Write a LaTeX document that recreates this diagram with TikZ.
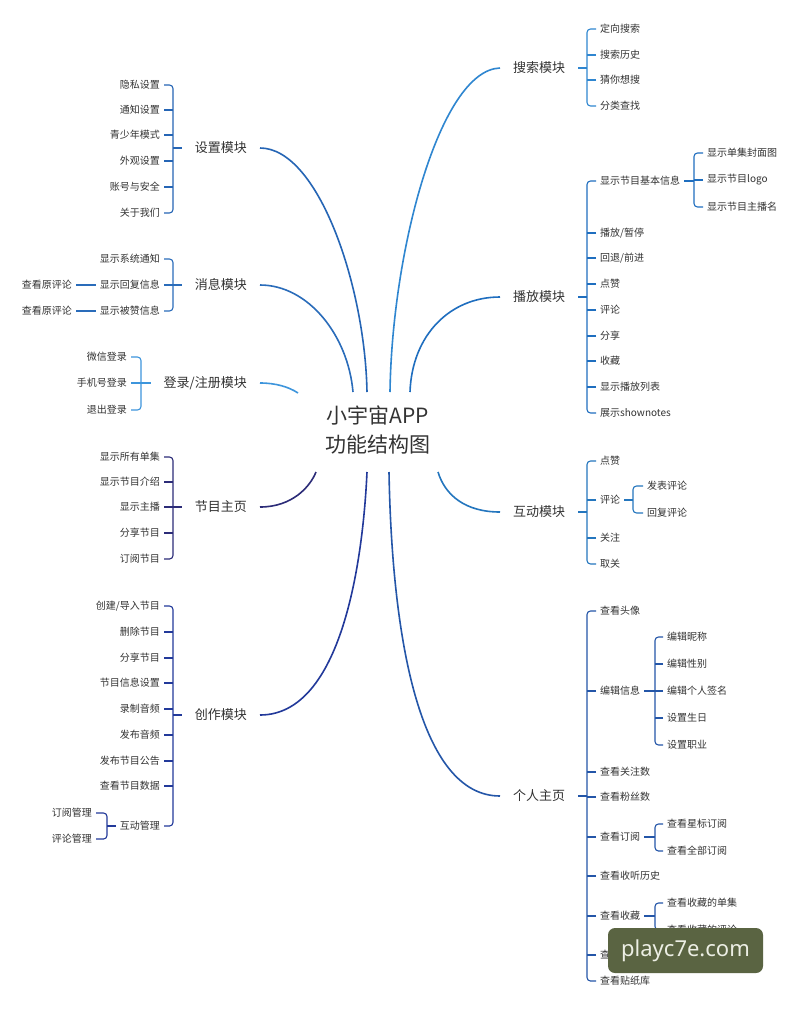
\documentclass[tikz,border=0pt]{standalone}
\usepackage{fontspec}
\setmainfont{Noto Sans CJK SC}
\newfontfamily\wmfont{Noto Sans}
\definecolor{txt}{HTML}{333333}
\definecolor{setc}{HTML}{2565B5}
\definecolor{msgc}{HTML}{2A6CBA}
\definecolor{loginc}{HTML}{3D95DC}
\definecolor{progc}{HTML}{2C2C78}
\definecolor{createc}{HTML}{22399A}
\definecolor{searchc}{HTML}{2F86D0}
\definecolor{playc}{HTML}{1F6EBF}
\definecolor{interc}{HTML}{2476BE}
\definecolor{personc}{HTML}{2456A8}
\definecolor{wmbg}{HTML}{5A6442}
\definecolor{wmtext}{HTML}{ECEEE4}
\tikzset{
  leafR/.style={anchor=west, inner xsep=4pt, inner ysep=2pt, font=\fontsize{10}{12}\selectfont, text=txt},
  leafL/.style={anchor=east, inner xsep=4pt, inner ysep=2pt, font=\fontsize{10}{12}\selectfont, text=txt},
  modR/.style={anchor=west, inner xsep=13pt, inner ysep=2pt, font=\fontsize{13}{15}\selectfont, text=txt},
  modL/.style={anchor=east, inner xsep=13pt, inner ysep=2pt, font=\fontsize{13}{15}\selectfont, text=txt},
  br/.style={line width=1.1pt, rounded corners=3.5pt},
  mainline/.style={line width=1.6pt},
}
\begin{document}
\begin{tikzpicture}[x=1pt,y=-1pt]
\useasboundingbox[fill=white] (0,0) rectangle (800,1010);

% centre
\node[align=center, text=txt, font=\fontsize{21}{29}\selectfont] (title) at (378,430) {小宇宙APP\\功能结构图};
\coordinate (eSet) at (367,392);
\coordinate (eMsg) at (353,392);
\coordinate (eLogin) at (298,393);
\coordinate (eProg) at (316,472);
\coordinate (eCreate) at (367,472);
\coordinate (eSearch) at (390,392);
\coordinate (ePlay) at (410,392);
\coordinate (eInter) at (438,472);
\coordinate (ePerson) at (389,472);

% ================= RIGHT SIDE =================
% Search
\node[modR] (search) at (500,68) {搜索模块};
\coordinate (sS) at (587,68);
\node[leafR] (s1) at (596,29) {定向搜索};
\node[leafR] (s2) at (596,55) {搜索历史};
\node[leafR] (s3) at (596,80) {猜你想搜};
\node[leafR] (s4) at (596,106) {分类查找};
\begin{scope}[searchc]
\draw[mainline] (search.west) .. controls (440,70) and (392,250) .. (eSearch);
\draw[br] (s1.west) -- (s1.west -| sS) -- (s4.west -| sS) -- (s4.west);
\draw[br] (s2.west) -- (s2.west -| sS);
\draw[br] (s3.west) -- (s3.west -| sS);
\draw[br] (search.east) -- (sS);
\end{scope}

% Play
\node[modR] (play) at (500,297) {播放模块};
\coordinate (pS) at (587,297);
\node[leafR] (p1) at (596,181) {显示节目基本信息};
\node[leafR] (p2) at (596,233) {播放/暂停};
\node[leafR] (p3) at (596,258) {回退/前进};
\node[leafR] (p4) at (596,284) {点赞};
\node[leafR] (p5) at (596,310) {评论};
\node[leafR] (p6) at (596,336) {分享};
\node[leafR] (p7) at (596,361) {收藏};
\node[leafR] (p8) at (596,387) {显示播放列表};
\node[leafR] (p9) at (596,413) {展示shownotes};
\coordinate (pT) at (694,181);
\node[leafR] (p1a) at (703,153) {显示单集封面图};
\node[leafR] (p1b) at (703,180) {显示节目logo};
\node[leafR] (p1c) at (703,207) {显示节目主播名};
\begin{scope}[playc]
\draw[mainline] (play.west) .. controls (450,297) and (412,335) .. (ePlay);
\draw[br] (p1.west) -- (p1.west -| pS) -- (p9.west -| pS) -- (p9.west);
\foreach \i in {2,...,8} \draw[br] (p\i.west) -- (p\i.west -| pS);
\draw[br] (play.east) -- (pS);
\draw[br] (p1a.west) -- (p1a.west -| pT) -- (p1c.west -| pT) -- (p1c.west);
\draw[br] (p1b.west) -- (p1b.west -| pT);
\draw[br] (p1.east) -- (pT);
\end{scope}

% Interaction
\node[modR] (inter) at (500,512) {互动模块};
\coordinate (iS) at (587,512);
\node[leafR] (i1) at (596,461) {点赞};
\node[leafR] (i2) at (596,500) {评论};
\node[leafR] (i3) at (596,538) {关注};
\node[leafR] (i4) at (596,564) {取关};
\coordinate (iT) at (633,500);
\node[leafR] (i2a) at (643,486) {发表评论};
\node[leafR] (i2b) at (643,513) {回复评论};
\begin{scope}[interc]
\draw[mainline] (inter.west) .. controls (465,512) and (445,495) .. (eInter);
\draw[br] (i1.west) -- (i1.west -| iS) -- (i4.west -| iS) -- (i4.west);
\draw[br] (i2.west) -- (i2.west -| iS);
\draw[br] (i3.west) -- (i3.west -| iS);
\draw[br] (inter.east) -- (iS);
\draw[br] (i2a.west) -- (i2a.west -| iT) -- (i2b.west -| iT) -- (i2b.west);
\draw[br] (i2.east) -- (iT);
\end{scope}

% Personal
\node[modR] (person) at (500,796) {个人主页};
\coordinate (uS) at (587,796);
\node[leafR] (u1) at (596,611) {查看头像};
\node[leafR] (u2) at (596,691) {编辑信息};
\node[leafR] (u3) at (596,772) {查看关注数};
\node[leafR] (u4) at (596,797) {查看粉丝数};
\node[leafR] (u5) at (596,837) {查看订阅};
\node[leafR] (u6) at (596,876) {查看收听历史};
\node[leafR] (u7) at (596,916) {查看收藏};
\node[leafR] (u8) at (596,955) {查看下载};
\node[leafR] (u9) at (596,981) {查看贴纸库};
\coordinate (uT) at (655,691);
\node[leafR] (u2a) at (663,637) {编辑昵称};
\node[leafR] (u2b) at (663,664) {编辑性别};
\node[leafR] (u2c) at (663,691) {编辑个人签名};
\node[leafR] (u2d) at (663,718) {设置生日};
\node[leafR] (u2e) at (663,745) {设置职业};
\coordinate (uU) at (655,837);
\node[leafR] (u5a) at (663,824) {查看星标订阅};
\node[leafR] (u5b) at (663,851) {查看全部订阅};
\coordinate (uV) at (655,916);
\node[leafR] (u7a) at (663,903) {查看收藏的单集};
\node[leafR] (u7b) at (663,930) {查看收藏的评论};
\begin{scope}[personc]
\draw[mainline] (person.west) .. controls (420,796) and (392,640) .. (ePerson);
\draw[br] (u1.west) -- (u1.west -| uS) -- (u9.west -| uS) -- (u9.west);
\foreach \i in {2,...,8} \draw[br] (u\i.west) -- (u\i.west -| uS);
\draw[br] (person.east) -- (uS);
\draw[br] (u2a.west) -- (u2a.west -| uT) -- (u2e.west -| uT) -- (u2e.west);
\draw[br] (u2b.west) -- (u2b.west -| uT);
\draw[br] (u2c.west) -- (u2c.west -| uT);
\draw[br] (u2d.west) -- (u2d.west -| uT);
\draw[br] (u2.east) -- (uT);
\draw[br] (u5a.west) -- (u5a.west -| uU) -- (u5b.west -| uU) -- (u5b.west);
\draw[br] (u5.east) -- (uU);
\draw[br] (u7a.west) -- (u7a.west -| uV) -- (u7b.west -| uV) -- (u7b.west);
\draw[br] (u7.east) -- (uV);
\end{scope}

% ================= LEFT SIDE =================
% Settings
\node[modL] (set) at (260,148) {设置模块};
\coordinate (tS) at (173,148);
\node[leafL] (t1) at (164,85) {隐私设置};
\node[leafL] (t2) at (164,110) {通知设置};
\node[leafL] (t3) at (164,135) {青少年模式};
\node[leafL] (t4) at (164,161) {外观设置};
\node[leafL] (t5) at (164,187) {账号与安全};
\node[leafL] (t6) at (164,213) {关于我们};
\begin{scope}[setc]
\draw[mainline] (set.east) .. controls (318,148) and (365,285) .. (eSet);
\draw[br] (t1.east) -- (t1.east -| tS) -- (t6.east -| tS) -- (t6.east);
\foreach \i in {2,...,5} \draw[br] (t\i.east) -- (t\i.east -| tS);
\draw[br] (set.west) -- (tS);
\end{scope}

% Messages
\node[modL] (msg) at (260,285) {消息模块};
\coordinate (mS) at (173,285);
\node[leafL] (m1) at (164,259) {显示系统通知};
\node[leafL] (m2) at (164,285) {显示回复信息};
\node[leafL] (m3) at (164,311) {显示被赞信息};
\node[leafL] (m2a) at (76,285) {查看原评论};
\node[leafL] (m3a) at (76,311) {查看原评论};
\begin{scope}[msgc]
\draw[mainline] (msg.east) .. controls (308,285) and (348,335) .. (eMsg);
\draw[br] (m1.east) -- (m1.east -| mS) -- (m3.east -| mS) -- (m3.east);
\draw[br] (m2.east) -- (m2.east -| mS);
\draw[br] (msg.west) -- (mS);
\draw[br] (m2a.east) -- (m2.west);
\draw[br] (m3a.east) -- (m3.west);
\end{scope}

% Login
\node[modL] (login) at (260,383) {登录/注册模块};
\coordinate (lS) at (141,383);
\node[leafL] (l1) at (131,357) {微信登录};
\node[leafL] (l2) at (131,383) {手机号登录};
\node[leafL] (l3) at (131,410) {退出登录};
\begin{scope}[loginc]
\draw[mainline] (login.east) .. controls (276,383) and (289,387) .. (eLogin);
\draw[br] (l1.east) -- (l1.east -| lS) -- (l3.east -| lS) -- (l3.east);
\draw[br] (l2.east) -- (l2.east -| lS);
\draw[br] (login.west) -- (lS);
\end{scope}

% Programme home
\node[modL] (prog) at (260,507) {节目主页};
\coordinate (gS) at (173,507);
\node[leafL] (g1) at (164,457) {显示所有单集};
\node[leafL] (g2) at (164,482) {显示节目介绍};
\node[leafL] (g3) at (164,507) {显示主播};
\node[leafL] (g4) at (164,533) {分享节目};
\node[leafL] (g5) at (164,559) {订阅节目};
\begin{scope}[progc]
\draw[mainline] (prog.east) .. controls (292,507) and (310,487) .. (eProg);
\draw[br] (g1.east) -- (g1.east -| gS) -- (g5.east -| gS) -- (g5.east);
\foreach \i in {2,3,4} \draw[br] (g\i.east) -- (g\i.east -| gS);
\draw[br] (prog.west) -- (gS);
\end{scope}

% Creation
\node[modL] (create) at (260,715) {创作模块};
\coordinate (cS) at (173,715);
\node[leafL] (c1) at (164,606) {创建/导入节目};
\node[leafL] (c2) at (164,632) {删除节目};
\node[leafL] (c3) at (164,658) {分享节目};
\node[leafL] (c4) at (164,683) {节目信息设置};
\node[leafL] (c5) at (164,709) {录制音频};
\node[leafL] (c6) at (164,735) {发布音频};
\node[leafL] (c7) at (164,761) {发布节目公告};
\node[leafL] (c8) at (164,786) {查看节目数据};
\node[leafL] (c9) at (164,826) {互动管理};
\coordinate (cT) at (107,826);
\node[leafL] (c9a) at (96,813) {订阅管理};
\node[leafL] (c9b) at (96,839) {评论管理};
\begin{scope}[createc]
\draw[mainline] (create.east) .. controls (342,715) and (363,560) .. (eCreate);
\draw[br] (c1.east) -- (c1.east -| cS) -- (c9.east -| cS) -- (c9.east);
\foreach \i in {2,...,8} \draw[br] (c\i.east) -- (c\i.east -| cS);
\draw[br] (create.west) -- (cS);
\draw[br] (c9a.east) -- (c9a.east -| cT) -- (c9b.east -| cT) -- (c9b.east);
\draw[br] (c9.west) -- (cT);
\end{scope}

% watermark
\node[fill=wmbg, rounded corners=7pt, minimum width=155pt, minimum height=45pt, inner sep=0pt,
      text=wmtext, font=\wmfont\fontsize{22}{24}\selectfont] (wm) at (685.5,950.5) {playc7e.com};
\end{tikzpicture}
\end{document}
